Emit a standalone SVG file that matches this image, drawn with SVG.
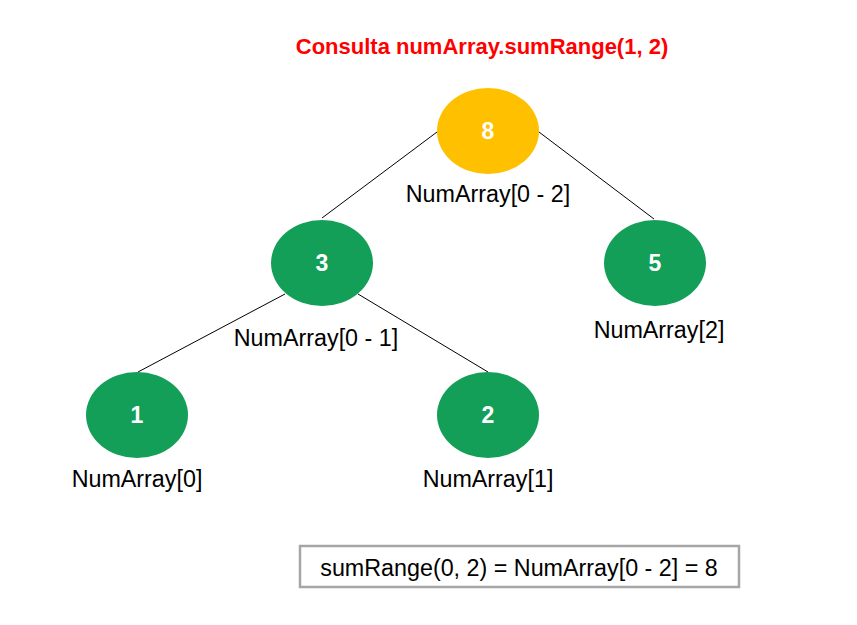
<svg xmlns="http://www.w3.org/2000/svg" width="857" height="625" viewBox="0 0 857 625">
<style>
.lbl{font-family:"Liberation Sans",Arial,sans-serif;font-size:23.3px;fill:#000;text-anchor:middle}
.num{font-family:"Liberation Sans",Arial,sans-serif;font-size:23px;font-weight:bold;fill:#fff;text-anchor:middle}
.g{fill:#139F58}
.y{fill:#FFC000}
.edge{stroke:#000;stroke-width:1}
</style>
<rect width="857" height="625" fill="#fff"/>
<text x="482" y="54" font-family="'Liberation Sans',Arial,sans-serif" font-size="22" font-weight="bold" fill="#FF0000" text-anchor="middle">Consulta numArray.sumRange(1, 2)</text>
<g id="connectors">
<line class="edge" x1="437" y1="132" x2="322" y2="218"/>
<line class="edge" x1="539" y1="132" x2="654" y2="219"/>
<line class="edge" x1="285" y1="294" x2="138" y2="372"/>
<line class="edge" x1="358" y1="294" x2="488" y2="372"/>
</g>
<g id="n8"><ellipse class="y" cx="488" cy="131" rx="51" ry="43"/><text class="num" x="488" y="139">8</text><text class="lbl" x="488" y="202">NumArray[0 - 2]</text></g>
<g id="n3"><ellipse class="g" cx="322" cy="263" rx="51" ry="43"/><text class="num" x="322" y="271">3</text><text class="lbl" x="316" y="346">NumArray[0 - 1]</text></g>
<g id="n5"><ellipse class="g" cx="655" cy="263" rx="51" ry="43"/><text class="num" x="655" y="271">5</text><text class="lbl" x="659" y="338">NumArray[2]</text></g>
<g id="n1"><ellipse class="g" cx="137" cy="415" rx="51" ry="43"/><text class="num" x="137" y="423">1</text><text class="lbl" x="137" y="487">NumArray[0]</text></g>
<g id="n2"><ellipse class="g" cx="488" cy="415" rx="51" ry="43"/><text class="num" x="488" y="423">2</text><text class="lbl" x="488" y="487">NumArray[1]</text></g>
<g id="result"><rect x="300" y="546" width="439" height="41" fill="#fff" stroke="#A6A6A6" stroke-width="2.5"/><text class="lbl" x="519" y="576" font-size="22.8">sumRange(0, 2) = NumArray[0 - 2] = 8</text></g>
</svg>
